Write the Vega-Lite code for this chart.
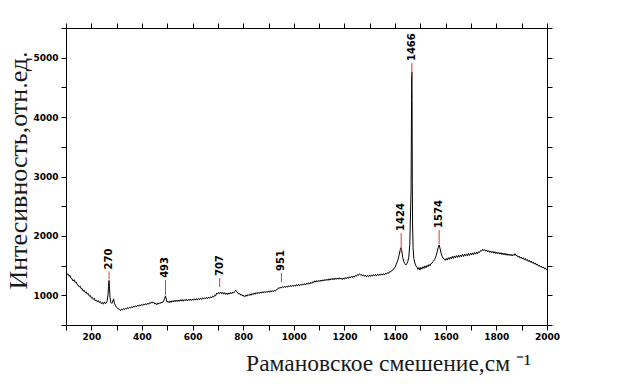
{
  "$schema": "https://vega.github.io/schema/vega-lite/v6.json",
  "width": 481,
  "height": 297,
  "autosize": {"type": "none"},
  "padding": {"left": 66, "top": 28, "right": 70, "bottom": 64},
  "background": "white",
  "config": {
    "view": {"stroke": null},
    "axis": {
      "grid": false,
      "domainColor": "#000000",
      "domainWidth": 1,
      "tickColor": "#000000",
      "tickSize": 5,
      "labelFont": "DejaVu Sans",
      "labelFontWeight": "bold",
      "labelFontSize": 9,
      "labelColor": "#000000",
      "titleFont": "Liberation Serif",
      "titleFontWeight": "normal",
      "titleColor": "#1a1a1a"
    }
  },
  "datasets": {
    "spectrum": [
      {"x":100,"y":1380},{"x":104,"y":1350},{"x":108,"y":1362},{"x":112,"y":1320},{"x":116,"y":1335},{"x":120,"y":1285},{"x":124,"y":1275},{"x":128,"y":1240},{"x":132,"y":1262},{"x":136,"y":1215},{"x":140,"y":1228},{"x":144,"y":1180},{"x":148,"y":1172},{"x":152,"y":1140},{"x":156,"y":1155},{"x":160,"y":1108},{"x":164,"y":1112},{"x":168,"y":1070},{"x":172,"y":1085},{"x":176,"y":1045},{"x":180,"y":1058},{"x":184,"y":1020},{"x":188,"y":1030},{"x":192,"y":985},{"x":196,"y":998},{"x":200,"y":955},{"x":204,"y":965},{"x":208,"y":930},{"x":212,"y":948},{"x":216,"y":905},{"x":220,"y":922},{"x":224,"y":890},{"x":228,"y":912},{"x":232,"y":875},{"x":236,"y":895},{"x":240,"y":858},{"x":244,"y":880},{"x":248,"y":850},{"x":252,"y":890},{"x":256,"y":860},{"x":260,"y":872},{"x":263,"y":910},{"x":266,"y":1010},{"x":268,"y":1150},{"x":270,"y":1250},{"x":272,"y":1120},{"x":274,"y":960},{"x":277,"y":880},{"x":281,"y":862},{"x":285,"y":905},{"x":288,"y":940},{"x":291,"y":868},{"x":295,"y":830},{"x":299,"y":800},{"x":303,"y":790},{"x":307,"y":770},{"x":311,"y":760},{"x":315,"y":742},{"x":319,"y":768},{"x":323,"y":752},{"x":327,"y":775},{"x":331,"y":760},{"x":335,"y":785},{"x":339,"y":765},{"x":343,"y":795},{"x":347,"y":778},{"x":351,"y":800},{"x":355,"y":782},{"x":359,"y":808},{"x":363,"y":790},{"x":367,"y":818},{"x":371,"y":800},{"x":375,"y":825},{"x":379,"y":808},{"x":383,"y":835},{"x":387,"y":815},{"x":391,"y":840},{"x":395,"y":822},{"x":399,"y":848},{"x":403,"y":830},{"x":407,"y":855},{"x":411,"y":835},{"x":415,"y":860},{"x":419,"y":842},{"x":423,"y":868},{"x":427,"y":850},{"x":431,"y":878},{"x":435,"y":865},{"x":439,"y":890},{"x":443,"y":870},{"x":447,"y":880},{"x":451,"y":852},{"x":455,"y":865},{"x":459,"y":840},{"x":463,"y":870},{"x":467,"y":855},{"x":471,"y":878},{"x":475,"y":865},{"x":479,"y":888},{"x":483,"y":880},{"x":487,"y":918},{"x":490,"y":950},{"x":493,"y":990},{"x":496,"y":935},{"x":499,"y":885},{"x":503,"y":900},{"x":507,"y":875},{"x":511,"y":905},{"x":515,"y":880},{"x":519,"y":910},{"x":523,"y":888},{"x":527,"y":915},{"x":531,"y":890},{"x":535,"y":918},{"x":539,"y":895},{"x":543,"y":922},{"x":547,"y":898},{"x":551,"y":925},{"x":555,"y":902},{"x":559,"y":930},{"x":563,"y":900},{"x":567,"y":928},{"x":571,"y":908},{"x":575,"y":935},{"x":579,"y":905},{"x":583,"y":932},{"x":587,"y":910},{"x":591,"y":938},{"x":595,"y":912},{"x":599,"y":935},{"x":603,"y":915},{"x":607,"y":942},{"x":611,"y":918},{"x":615,"y":945},{"x":619,"y":922},{"x":623,"y":948},{"x":627,"y":925},{"x":631,"y":952},{"x":635,"y":930},{"x":639,"y":958},{"x":643,"y":935},{"x":647,"y":960},{"x":651,"y":940},{"x":655,"y":965},{"x":659,"y":942},{"x":663,"y":970},{"x":667,"y":950},{"x":671,"y":975},{"x":675,"y":955},{"x":679,"y":985},{"x":683,"y":970},{"x":687,"y":1000},{"x":691,"y":990},{"x":695,"y":1040},{"x":699,"y":1020},{"x":703,"y":1050},{"x":707,"y":1030},{"x":711,"y":1055},{"x":715,"y":1025},{"x":719,"y":1050},{"x":723,"y":1020},{"x":727,"y":1045},{"x":731,"y":1015},{"x":735,"y":1040},{"x":739,"y":1012},{"x":743,"y":1042},{"x":747,"y":1020},{"x":751,"y":1048},{"x":755,"y":1028},{"x":759,"y":1055},{"x":763,"y":1040},{"x":767,"y":1068},{"x":771,"y":1085},{"x":775,"y":1058},{"x":779,"y":1040},{"x":783,"y":1018},{"x":787,"y":1030},{"x":791,"y":1000},{"x":795,"y":1012},{"x":799,"y":985},{"x":803,"y":998},{"x":807,"y":975},{"x":811,"y":1005},{"x":815,"y":985},{"x":819,"y":1012},{"x":823,"y":995},{"x":827,"y":1022},{"x":831,"y":1000},{"x":835,"y":1030},{"x":839,"y":1010},{"x":843,"y":1040},{"x":847,"y":1018},{"x":851,"y":1045},{"x":855,"y":1025},{"x":859,"y":1050},{"x":863,"y":1030},{"x":867,"y":1055},{"x":871,"y":1035},{"x":875,"y":1060},{"x":879,"y":1040},{"x":883,"y":1065},{"x":887,"y":1045},{"x":891,"y":1068},{"x":895,"y":1048},{"x":899,"y":1072},{"x":903,"y":1050},{"x":907,"y":1078},{"x":911,"y":1055},{"x":915,"y":1080},{"x":919,"y":1060},{"x":923,"y":1085},{"x":927,"y":1070},{"x":931,"y":1095},{"x":935,"y":1100},{"x":939,"y":1125},{"x":943,"y":1118},{"x":947,"y":1140},{"x":951,"y":1120},{"x":955,"y":1148},{"x":959,"y":1128},{"x":963,"y":1152},{"x":967,"y":1132},{"x":971,"y":1158},{"x":975,"y":1135},{"x":979,"y":1162},{"x":983,"y":1140},{"x":987,"y":1165},{"x":991,"y":1145},{"x":995,"y":1170},{"x":999,"y":1150},{"x":1003,"y":1175},{"x":1007,"y":1152},{"x":1011,"y":1180},{"x":1015,"y":1158},{"x":1019,"y":1185},{"x":1023,"y":1162},{"x":1027,"y":1188},{"x":1031,"y":1168},{"x":1035,"y":1192},{"x":1039,"y":1172},{"x":1043,"y":1198},{"x":1047,"y":1178},{"x":1051,"y":1205},{"x":1055,"y":1185},{"x":1059,"y":1212},{"x":1063,"y":1192},{"x":1067,"y":1220},{"x":1071,"y":1200},{"x":1075,"y":1230},{"x":1079,"y":1215},{"x":1083,"y":1245},{"x":1087,"y":1222},{"x":1091,"y":1248},{"x":1095,"y":1228},{"x":1099,"y":1252},{"x":1103,"y":1232},{"x":1107,"y":1258},{"x":1111,"y":1238},{"x":1115,"y":1262},{"x":1119,"y":1242},{"x":1123,"y":1268},{"x":1127,"y":1248},{"x":1131,"y":1272},{"x":1135,"y":1250},{"x":1139,"y":1278},{"x":1143,"y":1255},{"x":1147,"y":1282},{"x":1151,"y":1260},{"x":1155,"y":1288},{"x":1159,"y":1262},{"x":1163,"y":1290},{"x":1167,"y":1268},{"x":1171,"y":1292},{"x":1175,"y":1270},{"x":1179,"y":1295},{"x":1183,"y":1272},{"x":1187,"y":1290},{"x":1191,"y":1265},{"x":1195,"y":1292},{"x":1199,"y":1270},{"x":1203,"y":1298},{"x":1207,"y":1278},{"x":1211,"y":1305},{"x":1215,"y":1285},{"x":1219,"y":1312},{"x":1223,"y":1290},{"x":1227,"y":1318},{"x":1231,"y":1298},{"x":1235,"y":1325},{"x":1239,"y":1305},{"x":1243,"y":1335},{"x":1247,"y":1320},{"x":1251,"y":1348},{"x":1255,"y":1335},{"x":1259,"y":1362},{"x":1263,"y":1345},{"x":1267,"y":1350},{"x":1271,"y":1325},{"x":1275,"y":1345},{"x":1279,"y":1318},{"x":1283,"y":1338},{"x":1287,"y":1310},{"x":1291,"y":1335},{"x":1295,"y":1315},{"x":1299,"y":1340},{"x":1303,"y":1318},{"x":1307,"y":1345},{"x":1311,"y":1322},{"x":1315,"y":1348},{"x":1319,"y":1325},{"x":1323,"y":1352},{"x":1327,"y":1330},{"x":1331,"y":1355},{"x":1335,"y":1332},{"x":1339,"y":1358},{"x":1343,"y":1338},{"x":1347,"y":1362},{"x":1351,"y":1340},{"x":1355,"y":1365},{"x":1359,"y":1345},{"x":1363,"y":1372},{"x":1367,"y":1358},{"x":1371,"y":1385},{"x":1375,"y":1372},{"x":1379,"y":1400},{"x":1383,"y":1395},{"x":1387,"y":1420},{"x":1391,"y":1425},{"x":1395,"y":1450},{"x":1400,"y":1475},{"x":1404,"y":1515},{"x":1408,"y":1560},{"x":1412,"y":1610},{"x":1416,"y":1680},{"x":1420,"y":1760},{"x":1423,"y":1800},{"x":1426,"y":1765},{"x":1430,"y":1640},{"x":1434,"y":1570},{"x":1438,"y":1535},{"x":1442,"y":1510},{"x":1446,"y":1530},{"x":1450,"y":1570},{"x":1454,"y":1640},{"x":1458,"y":1850},{"x":1461,"y":2400},{"x":1463,"y":2760},{"x":1464,"y":3500},{"x":1465,"y":4300},{"x":1466,"y":4760},{"x":1467,"y":4200},{"x":1468,"y":2900},{"x":1469,"y":2200},{"x":1471,"y":1800},{"x":1474,"y":1620},{"x":1478,"y":1545},{"x":1482,"y":1495},{"x":1486,"y":1480},{"x":1490,"y":1435},{"x":1494,"y":1468},{"x":1498,"y":1425},{"x":1502,"y":1470},{"x":1506,"y":1440},{"x":1510,"y":1482},{"x":1514,"y":1452},{"x":1518,"y":1495},{"x":1522,"y":1465},{"x":1526,"y":1505},{"x":1530,"y":1480},{"x":1534,"y":1520},{"x":1538,"y":1498},{"x":1542,"y":1535},{"x":1546,"y":1540},{"x":1550,"y":1570},{"x":1556,"y":1600},{"x":1562,"y":1665},{"x":1566,"y":1730},{"x":1570,"y":1800},{"x":1574,"y":1848},{"x":1578,"y":1780},{"x":1582,"y":1700},{"x":1586,"y":1655},{"x":1590,"y":1620},{"x":1594,"y":1615},{"x":1598,"y":1588},{"x":1602,"y":1620},{"x":1606,"y":1592},{"x":1610,"y":1635},{"x":1614,"y":1605},{"x":1618,"y":1642},{"x":1622,"y":1615},{"x":1626,"y":1655},{"x":1630,"y":1622},{"x":1634,"y":1662},{"x":1638,"y":1630},{"x":1642,"y":1668},{"x":1646,"y":1638},{"x":1650,"y":1675},{"x":1654,"y":1642},{"x":1658,"y":1680},{"x":1662,"y":1648},{"x":1666,"y":1688},{"x":1670,"y":1655},{"x":1674,"y":1692},{"x":1678,"y":1660},{"x":1682,"y":1698},{"x":1686,"y":1665},{"x":1690,"y":1705},{"x":1694,"y":1672},{"x":1698,"y":1710},{"x":1702,"y":1678},{"x":1706,"y":1715},{"x":1710,"y":1685},{"x":1714,"y":1722},{"x":1718,"y":1692},{"x":1722,"y":1728},{"x":1726,"y":1700},{"x":1730,"y":1735},{"x":1734,"y":1722},{"x":1738,"y":1755},{"x":1742,"y":1745},{"x":1746,"y":1775},{"x":1750,"y":1752},{"x":1754,"y":1768},{"x":1758,"y":1740},{"x":1762,"y":1762},{"x":1766,"y":1730},{"x":1770,"y":1752},{"x":1774,"y":1722},{"x":1778,"y":1745},{"x":1782,"y":1715},{"x":1786,"y":1740},{"x":1790,"y":1708},{"x":1794,"y":1735},{"x":1798,"y":1702},{"x":1802,"y":1728},{"x":1806,"y":1698},{"x":1810,"y":1722},{"x":1814,"y":1692},{"x":1818,"y":1718},{"x":1822,"y":1685},{"x":1826,"y":1712},{"x":1830,"y":1680},{"x":1834,"y":1708},{"x":1838,"y":1675},{"x":1842,"y":1700},{"x":1846,"y":1672},{"x":1850,"y":1695},{"x":1854,"y":1668},{"x":1858,"y":1692},{"x":1862,"y":1662},{"x":1866,"y":1688},{"x":1870,"y":1670},{"x":1874,"y":1700},{"x":1878,"y":1665},{"x":1882,"y":1672},{"x":1886,"y":1642},{"x":1890,"y":1660},{"x":1894,"y":1625},{"x":1898,"y":1645},{"x":1902,"y":1612},{"x":1906,"y":1632},{"x":1910,"y":1598},{"x":1914,"y":1620},{"x":1918,"y":1585},{"x":1922,"y":1605},{"x":1926,"y":1570},{"x":1930,"y":1592},{"x":1934,"y":1555},{"x":1938,"y":1578},{"x":1942,"y":1540},{"x":1946,"y":1560},{"x":1950,"y":1525},{"x":1954,"y":1545},{"x":1958,"y":1508},{"x":1962,"y":1528},{"x":1966,"y":1490},{"x":1970,"y":1508},{"x":1974,"y":1475},{"x":1978,"y":1492},{"x":1982,"y":1460},{"x":1986,"y":1478},{"x":1990,"y":1445},{"x":1994,"y":1460},{"x":1998,"y":1430},{"x":2000,"y":1438}
    ],
    "peaks": [
      {"x":270,"y1":1270,"y2":1400,"label":"270"},
      {"x":493,"y1":1005,"y2":1260,"label":"493"},
      {"x":707,"y1":1140,"y2":1290,"label":"707"},
      {"x":951,"y1":1220,"y2":1375,"label":"951"},
      {"x":1424,"y1":1720,"y2":2050,"label":"1424"},
      {"x":1466,"y1":4680,"y2":4910,"label":"1466"},
      {"x":1574,"y1":1860,"y2":2100,"label":"1574"}
    ]
  },
  "layer": [
    {
      "data": {"name": "spectrum"},
      "mark": {"type": "line", "color": "#000000", "strokeWidth": 1, "interpolate": "linear"},
      "encoding": {
        "x": {
          "field": "x", "type": "quantitative",
          "scale": {"domain": [100, 2000], "nice": false, "zero": false},
          "axis": {
            "orient": "bottom",
            "values": [100,200,300,400,500,600,700,800,900,1000,1100,1200,1300,1400,1500,1600,1700,1800,1900,2000],
            "format": "d",
            "labelExpr": "datum.value % 200 == 0 ? datum.label : ''",
            "labelPadding": 2,
            "labelFlush": false,
            "labelOverlap": false,
            "title": "Рамановское смешение,см ⁻¹",
            "titleFontSize": 23.5,
            "titleX": 322,
            "titleY": 45,
            "titleAlign": "center",
            "titleBaseline": "alphabetic"
          }
        },
        "y": {
          "field": "y", "type": "quantitative",
          "scale": {"domain": [500, 5500], "nice": false, "zero": false},
          "axis": {
            "orient": "left",
            "values": [500,1000,1500,2000,2500,3000,3500,4000,4500,5000,5500],
            "format": "d",
            "labelExpr": "datum.value % 1000 == 0 ? datum.label : ''",
            "labelPadding": 3,
            "labelFlush": false,
            "labelOverlap": false,
            "title": "Интесивность,отн.ед.",
            "titleFontSize": 26,
            "titleAngle": 270,
            "titleX": -40,
            "titleY": 142,
            "titleAlign": "center",
            "titleBaseline": "alphabetic"
          }
        }
      }
    },
    {
      "data": {"name": "peaks"},
      "mark": {"type": "rule", "color": "#d93a3a", "strokeWidth": 1},
      "encoding": {
        "x": {
          "field": "x", "type": "quantitative",
          "axis": {
            "orient": "top",
            "values": [100,200,300,400,500,600,700,800,900,1000,1100,1200,1300,1400,1500,1600,1700,1800,1900,2000],
            "labels": false,
            "title": null
          }
        },
        "y": {
          "field": "y1", "type": "quantitative",
          "axis": {
            "orient": "right",
            "values": [500,1000,1500,2000,2500,3000,3500,4000,4500,5000,5500],
            "labels": false,
            "title": null
          }
        },
        "y2": {"field": "y2"}
      }
    },
    {
      "data": {"name": "peaks"},
      "mark": {"type": "text", "angle": 270, "align": "left", "baseline": "middle", "font": "DejaVu Sans", "fontWeight": "bold", "fontSize": 10, "color": "#000000", "dx": 2},
      "encoding": {
        "x": {"field": "x", "type": "quantitative", "axis": null},
        "y": {"field": "y2", "type": "quantitative", "axis": null},
        "text": {"field": "label"}
      }
    }
  ],
  "resolve": {"axis": {"x": "independent", "y": "independent"}}
}
